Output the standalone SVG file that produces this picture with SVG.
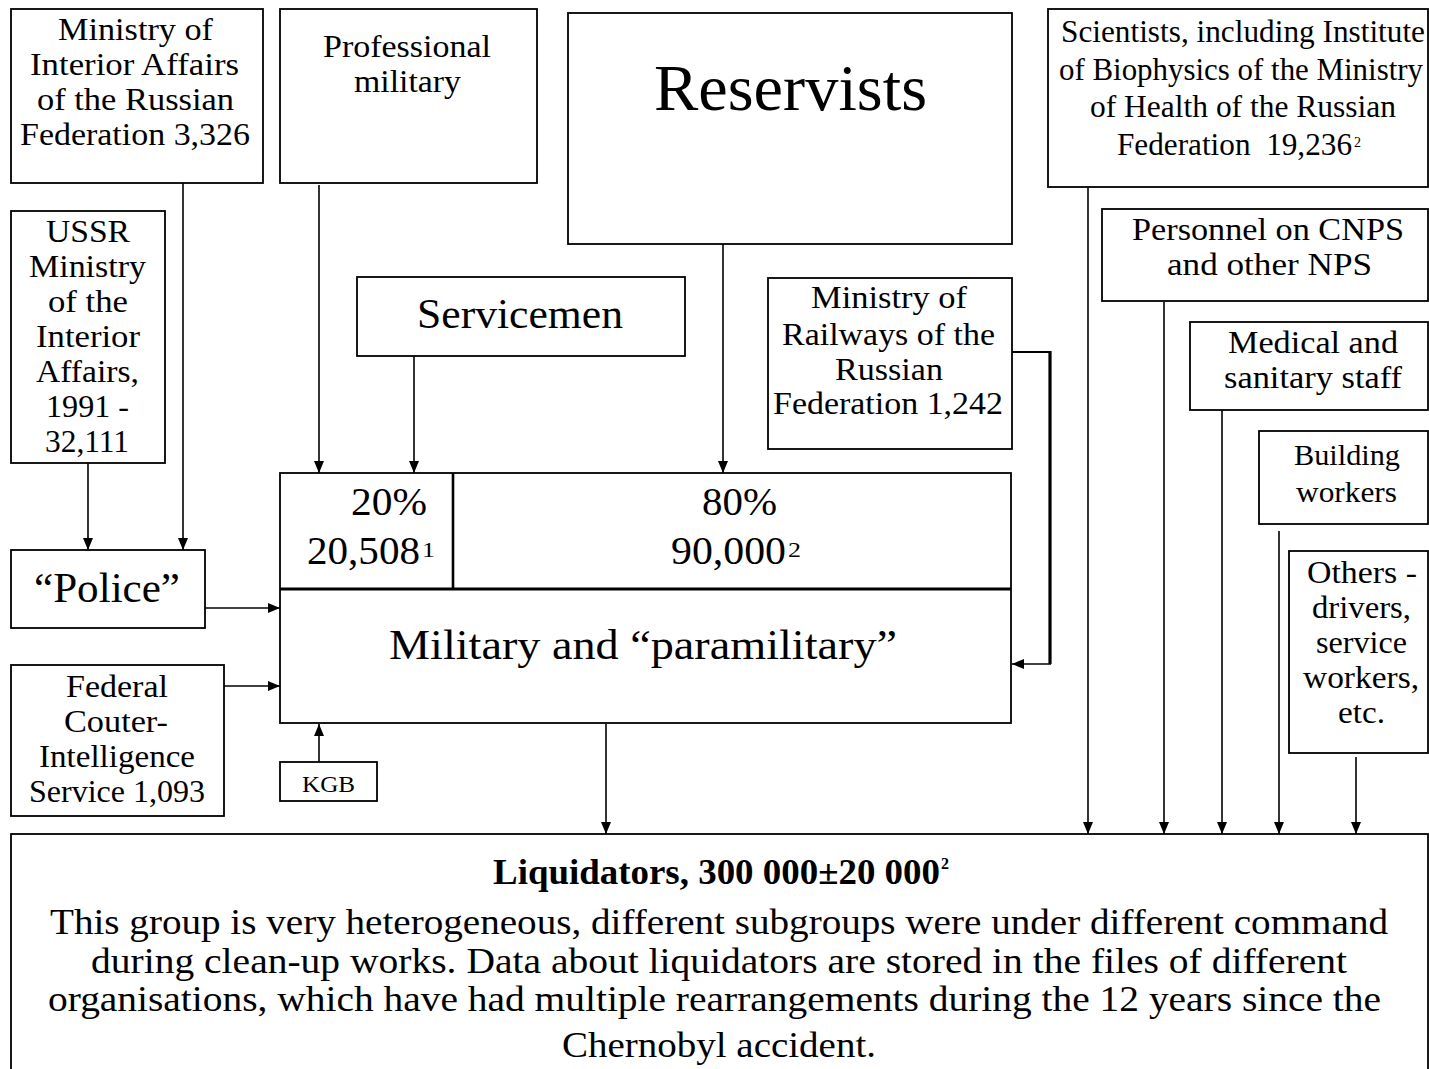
<svg xmlns="http://www.w3.org/2000/svg" width="1429" height="1069" viewBox="0 0 1429 1069">
<defs>
<style>
.box{fill:#fff;stroke:#000;stroke-width:1.8}
.t{font-family:"Liberation Serif","Times New Roman",serif;font-size:32px;fill:#000}
.c{fill:none;stroke:#000;stroke-width:1.6}
.a{marker-end:url(#ah)}
</style>
<marker id="ah" viewBox="0 0 12 10" refX="12" refY="5" markerWidth="12" markerHeight="10" markerUnits="userSpaceOnUse" orient="auto">
<path d="M0,0 L12,5 L0,10 z" fill="#000"/>
</marker>
</defs>
<rect width="1429" height="1069" fill="#fff"/>

<g id="connectors">
<path class="c a" d="M88,463 V550"/>
<path class="c a" d="M183,183 V550"/>
<path class="c a" d="M319,185 V473"/>
<path class="c a" d="M414,356 V473"/>
<path class="c a" d="M723,244 V473"/>
<path class="c a" d="M204,608 H280"/>
<path class="c a" d="M222,686 H280"/>
<path class="c a" d="M319,762 V724"/>
<path class="c" d="M1012,352 H1050" style="stroke-width:2.2"/>
<path class="c" d="M1050,351 V664" style="stroke-width:3.2"/>
<path class="c a" d="M1051,664 H1012"/>
<path class="c a" d="M606,724 V834"/>
<path class="c a" d="M1088,187 V834"/>
<path class="c a" d="M1164,302 V834"/>
<path class="c a" d="M1222,410 V834"/>
<path class="c a" d="M1279,531 V834"/>
<path class="c a" d="M1356,757 V834"/>
</g>

<g id="mvd-rf">
<rect class="box" x="11" y="9" width="252" height="174"/>
<text class="t" x="58" y="40" textLength="155" lengthAdjust="spacingAndGlyphs">Ministry of</text>
<text class="t" x="30" y="75" textLength="209" lengthAdjust="spacingAndGlyphs">Interior Affairs</text>
<text class="t" x="37" y="110" textLength="197" lengthAdjust="spacingAndGlyphs">of the Russian</text>
<text class="t" x="20" y="145" textLength="230" lengthAdjust="spacingAndGlyphs">Federation 3,326</text>
</g>

<g id="professional">
<rect class="box" x="280" y="9" width="257" height="174"/>
<text class="t" x="323" y="57" textLength="168" lengthAdjust="spacingAndGlyphs">Professional</text>
<text class="t" x="354" y="92" textLength="107" lengthAdjust="spacingAndGlyphs">military</text>
</g>

<g id="reservists">
<rect class="box" x="568" y="13" width="444" height="231"/>
<text class="t" x="654" y="110" style="font-size:66px" textLength="273" lengthAdjust="spacingAndGlyphs">Reservists</text>
</g>

<g id="scientists">
<rect class="box" x="1048" y="9" width="380" height="178"/>
<text class="t" x="1061" y="42" style="font-size:31px" textLength="364" lengthAdjust="spacingAndGlyphs">Scientists, including Institute</text>
<text class="t" x="1059" y="80" style="font-size:31px" textLength="364" lengthAdjust="spacingAndGlyphs">of Biophysics of the Ministry</text>
<text class="t" x="1090" y="117" style="font-size:31px" textLength="306" lengthAdjust="spacingAndGlyphs">of Health of the Russian</text>
<text class="t" x="1117" y="155" style="font-size:31px" xml:space="preserve" textLength="235" lengthAdjust="spacingAndGlyphs">Federation  19,236</text>
<text class="t" x="1354" y="147" style="font-size:14px">2</text>
</g>

<g id="ussr-mvd">
<rect class="box" x="11" y="211" width="154" height="252"/>
<text class="t" x="46" y="242" textLength="84" lengthAdjust="spacingAndGlyphs">USSR</text>
<text class="t" x="29" y="277" textLength="117" lengthAdjust="spacingAndGlyphs">Ministry</text>
<text class="t" x="48" y="312" textLength="80" lengthAdjust="spacingAndGlyphs">of the</text>
<text class="t" x="36" y="347" textLength="104" lengthAdjust="spacingAndGlyphs">Interior</text>
<text class="t" x="36" y="382" textLength="103" lengthAdjust="spacingAndGlyphs">Affairs,</text>
<text class="t" x="46" y="417" textLength="83" lengthAdjust="spacingAndGlyphs">1991 -</text>
<text class="t" x="45" y="452" textLength="84" lengthAdjust="spacingAndGlyphs">32,111</text>
</g>

<g id="personnel">
<rect class="box" x="1102" y="209" width="326" height="92"/>
<text class="t" x="1132" y="240" textLength="272" lengthAdjust="spacingAndGlyphs">Personnel on CNPS</text>
<text class="t" x="1167" y="275" textLength="205" lengthAdjust="spacingAndGlyphs">and other NPS</text>
</g>

<g id="servicemen">
<rect class="box" x="357" y="277" width="328" height="79"/>
<text class="t" x="417" y="328" style="font-size:43px" textLength="206" lengthAdjust="spacingAndGlyphs">Servicemen</text>
</g>

<g id="railways">
<rect class="box" x="768" y="278" width="244" height="171"/>
<text class="t" x="811" y="308" textLength="156" lengthAdjust="spacingAndGlyphs">Ministry of</text>
<text class="t" x="782" y="345" textLength="213" lengthAdjust="spacingAndGlyphs">Railways of the</text>
<text class="t" x="835" y="380" textLength="108" lengthAdjust="spacingAndGlyphs">Russian</text>
<text class="t" x="773" y="414" textLength="230" lengthAdjust="spacingAndGlyphs">Federation 1,242</text>
</g>

<g id="medical">
<rect class="box" x="1190" y="322" width="238" height="88"/>
<text class="t" x="1228" y="353" textLength="170" lengthAdjust="spacingAndGlyphs">Medical and</text>
<text class="t" x="1224" y="388" textLength="178" lengthAdjust="spacingAndGlyphs">sanitary staff</text>
</g>

<g id="building">
<rect class="box" x="1259" y="431" width="169" height="93"/>
<text class="t" x="1294" y="465" style="font-size:29px" textLength="106" lengthAdjust="spacingAndGlyphs">Building</text>
<text class="t" x="1296" y="502" style="font-size:29px" textLength="101" lengthAdjust="spacingAndGlyphs">workers</text>
</g>

<g id="others">
<rect class="box" x="1289" y="551" width="139" height="202"/>
<text class="t" x="1307" y="583" style="font-size:31px" textLength="110" lengthAdjust="spacingAndGlyphs">Others -</text>
<text class="t" x="1312" y="618" style="font-size:31px" textLength="99" lengthAdjust="spacingAndGlyphs">drivers,</text>
<text class="t" x="1316" y="653" style="font-size:31px" textLength="91" lengthAdjust="spacingAndGlyphs">service</text>
<text class="t" x="1303" y="688" style="font-size:31px" textLength="116" lengthAdjust="spacingAndGlyphs">workers,</text>
<text class="t" x="1338" y="723" style="font-size:31px" textLength="47" lengthAdjust="spacingAndGlyphs">etc.</text>
</g>

<g id="police">
<rect class="box" x="11" y="550" width="194" height="78"/>
<text class="t" x="34" y="602" style="font-size:42px" textLength="146" lengthAdjust="spacingAndGlyphs">“Police”</text>
</g>

<g id="federal">
<rect class="box" x="11" y="665" width="213" height="151"/>
<text class="t" x="66" y="697" textLength="102" lengthAdjust="spacingAndGlyphs">Federal</text>
<text class="t" x="64" y="732" textLength="104" lengthAdjust="spacingAndGlyphs">Couter-</text>
<text class="t" x="39" y="767" textLength="156" lengthAdjust="spacingAndGlyphs">Intelligence</text>
<text class="t" x="29" y="802" textLength="176" lengthAdjust="spacingAndGlyphs">Service 1,093</text>
</g>

<g id="kgb">
<rect class="box" x="280" y="762" width="97" height="39"/>
<text class="t" x="302" y="792" style="font-size:24px" textLength="53" lengthAdjust="spacingAndGlyphs">KGB</text>
</g>

<g id="military">
<rect class="box" x="280" y="473" width="731" height="250"/>
<line x1="453" y1="473" x2="453" y2="589" stroke="#000" stroke-width="2.6"/>
<line x1="280" y1="589" x2="1011" y2="589" stroke="#000" stroke-width="3.2"/>
<text class="t" x="351" y="515" style="font-size:39px" textLength="76" lengthAdjust="spacingAndGlyphs">20%</text>
<text class="t" x="307" y="564" style="font-size:39px" textLength="113" lengthAdjust="spacingAndGlyphs">20,508</text>
<text class="t" x="422" y="557" style="font-size:22px" textLength="13" lengthAdjust="spacingAndGlyphs">1</text>
<text class="t" x="702" y="515" style="font-size:39px" textLength="75" lengthAdjust="spacingAndGlyphs">80%</text>
<text class="t" x="671" y="564" style="font-size:39px" textLength="115" lengthAdjust="spacingAndGlyphs">90,000</text>
<text class="t" x="788" y="557" style="font-size:22px" textLength="13" lengthAdjust="spacingAndGlyphs">2</text>
<text class="t" x="389" y="659" style="font-size:42px" textLength="508" lengthAdjust="spacingAndGlyphs">Military and “paramilitary”</text>
</g>

<g id="liquidators">
<rect class="box" x="11" y="834" width="1417" height="250"/>
<text class="t" x="493" y="884" style="font-size:36px;font-weight:bold" textLength="447" lengthAdjust="spacingAndGlyphs">Liquidators, 300 000±20 000</text>
<text class="t" x="941" y="869" style="font-size:16px;font-weight:bold">2</text>
<text class="t" x="50" y="934" style="font-size:35px" textLength="1338" lengthAdjust="spacingAndGlyphs">This group is very heterogeneous, different subgroups were under different command</text>
<text class="t" x="91" y="973" style="font-size:35px" textLength="1256" lengthAdjust="spacingAndGlyphs">during clean-up works. Data about liquidators are stored in the files of different</text>
<text class="t" x="48" y="1011" style="font-size:35px" textLength="1333" lengthAdjust="spacingAndGlyphs">organisations, which have had multiple rearrangements during the 12 years since the</text>
<text class="t" x="562" y="1057" style="font-size:35px" textLength="314" lengthAdjust="spacingAndGlyphs">Chernobyl accident.</text>
</g>
</svg>
